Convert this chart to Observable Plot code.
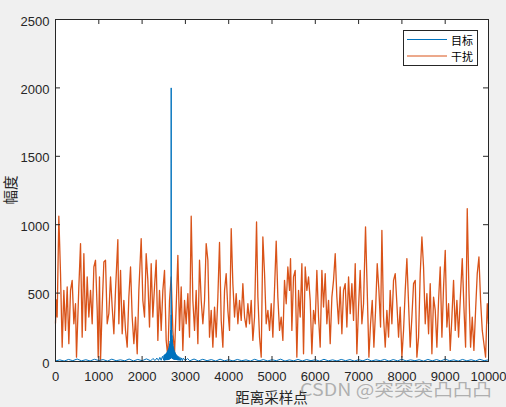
<!DOCTYPE html>
<html>
<head>
<meta charset="utf-8">
<script src="https://cdn.jsdelivr.net/npm/d3@7"></script>
<script src="https://cdn.jsdelivr.net/npm/@observablehq/plot@0.6"></script>
<style>
html, body { margin: 0; padding: 0; background: #f0f0f0; overflow: hidden; }
</style>
</head>
<body>
<div id="chart"></div>
<script>
// ---- data ----
const xTicks = [0, 1000, 2000, 3000, 4000, 5000, 6000, 7000, 8000, 9000, 10000];
const yTicks = [0, 500, 1000, 1500, 2000, 2500];
const seriesNames = ["目标", "干扰"];
const xLabel = "距离采样点";
const yLabel = "幅度";
const watermark = "CSDN @突突突凸凸凸";

// 干扰 (interference)
const interfSample = [0,20,38,77,116,154,193,231,270,308,347,385,424,462,485,539,578,616,655,693,732,770,809,847,886,924,963,986,1016,1040,1078,1117,1155,1194,1232,1271,1309,1348,1386,1440,1463,1502,1540,1579,1617,1656,1694,1733,1771,1810,1848,1887,1925,1979,2017,2056,2094,2133,2171,2210,2248,2287,2325,2364,2402,2441,2479,2518,2556,2595,2633,2672,2710,2749,2787,2826,2864,2903,2941,2980,3018,3057,3095,3134,3172,3211,3249,3288,3326,3365,3403,3442,3480,3519,3557,3596,3634,3673,3711,3750,3788,3827,3865,3904,3942,3981,4019,4058,4096,4135,4173,4212,4250,4289,4327,4366,4404,4443,4481,4520,4558,4597,4643,4674,4712,4751,4789,4828,4866,4905,4943,4982,5020,5097,5135,5174,5212,5251,5289,5328,5366,5405,5428,5459,5497,5536,5574,5613,5651,5690,5728,5767,5805,5844,5882,5921,5959,5998,6036,6075,6113,6152,6190,6229,6267,6306,6344,6383,6421,6460,6498,6537,6575,6614,6652,6691,6729,6768,6806,6845,6883,6922,6960,6999,7037,7076,7114,7160,7199,7238,7276,7315,7353,7392,7430,7469,7507,7538,7576,7615,7653,7692,7730,7769,7807,7846,7884,7923,7961,8000,8038,8077,8115,8154,8192,8231,8269,8308,8346,8385,8423,8462,8500,8539,8577,8616,8654,8693,8731,8770,8808,8847,8885,8924,8962,9001,9039,9078,9116,9155,9193,9232,9270,9309,9347,9394,9432,9471,9509,9548,9586,9625,9663,9702,9740,9779,9817,9856,9894,9933,9971,10000];
const interfAmp = [280,450,325,1062,642,105,520,227,545,130,520,593,276,422,32,545,862,178,788,227,618,325,520,276,691,740,374,32,618,8,398,727,740,276,350,618,398,203,520,891,276,666,203,447,227,105,471,691,325,130,325,56,520,898,447,325,788,593,252,715,325,545,740,154,520,227,520,666,154,32,447,618,227,56,398,776,227,545,81,447,276,496,178,1062,447,227,520,130,740,447,276,447,862,740,178,374,105,398,178,471,870,300,105,520,642,374,227,971,569,325,496,276,447,300,569,325,252,422,276,447,154,325,1020,471,178,32,910,642,276,374,227,422,178,880,471,227,325,154,593,422,691,520,752,227,618,666,32,520,325,715,56,691,520,618,447,56,374,276,666,325,105,666,398,642,276,447,130,471,593,788,471,276,545,203,520,569,252,618,350,569,300,715,56,398,666,276,422,984,520,32,276,447,105,374,715,520,252,959,325,105,374,178,520,276,593,642,422,178,398,32,227,520,752,422,105,325,569,593,32,178,642,910,691,276,496,203,569,56,471,374,105,447,691,178,545,813,252,422,81,325,593,227,447,178,447,752,398,105,1118,520,105,325,81,374,642,764,447,227,130,32,422,276];

// 目标 (target)
const targetSample = [0,100,200,300,400,500,600,700,800,900,1000,1100,1200,1300,1400,1500,1600,1700,1800,1900,2000,2100,2200,2250,2300,2340,2380,2410,2440,2470,
  2500,2506,2512,2518,2524,2530,2536,2542,2548,2554,2560,2566,2572,2578,2584,2590,2596,2602,2608,2614,2620,2626,2632,2638,2644,2648,2652,2656,2660,2663,2666,2668,2670,2671,2672,2673,2675,2677,2679,2681,2684,2687,2690,2694,2698,2703,2708,2713,2718,2724,2730,2736,2742,2749,2756,2763,2770,2778,2786,2795,2805,2815,2825,2836,2848,2860,2875,2890,2910,2930,2950,
  3000,3050,3100,3200,3300,3400,3500,3600,3700,3800,3900,4000,4100,4200,4300,4400,4500,4600,4700,4800,4900,5000,5100,5200,5300,5400,5500,5600,5700,5800,5900,6000,6100,6200,6300,6400,6500,6600,6700,6800,6900,7000,7100,7200,7300,7400,7500,7600,7700,7800,7900,8000,8100,8200,8300,8400,8500,8600,8700,8800,8900,9000,9100,9200,9300,9400,9500,9600,9700,9800,9900,10000];
const targetAmp = [4,12,3,15,6,18,5,13,4,16,7,14,3,17,6,12,5,18,4,15,6,19,5,22,7,25,8,30,9,38,
  10,45,8,50,9,48,10,55,11,58,12,62,10,70,13,78,12,85,14,95,15,110,16,130,18,150,20,180,25,230,30,300,350,1450,2000,40,340,35,280,30,230,25,190,22,160,20,130,18,110,16,95,15,80,14,70,13,60,12,52,11,45,10,40,9,35,8,30,7,26,6,24,
  6,22,5,18,4,16,6,14,3,17,5,13,4,15,6,12,3,16,5,14,4,13,6,17,3,12,5,15,4,14,6,13,3,16,5,12,4,15,6,14,3,13,5,17,4,12,6,15,3,14,5,16,4,12,6,13,3,15,5,14,4,17,6,12,3,15,5,13,4,16,6,12,5,8];

// ---- layout ----
const W = 506, H = 407;
const mL = 55, mR = 18, mT = 19, mB = 46;
const tickPx = 5;
const xMax = 10000, yMax = 2500;
const tickY = tickPx * yMax / (H - mT - mB);
const tickX = tickPx * xMax / (W - mL - mR);

const blue = "#0072BD", orange = "#D95319", axisCol = "#262626";

const iIdx = d3.range(interfSample.length);
const tIdx = d3.range(targetSample.length);

const plot = Plot.plot({
  width: W, height: H,
  marginLeft: mL, marginRight: mR, marginTop: mT, marginBottom: mB,
  style: {background: "#f0f0f0", fontFamily: "'Liberation Sans', Arial, sans-serif", fontSize: "13px", color: axisCol, overflow: "visible"},
  x: {domain: [0, xMax]},
  y: {domain: [0, yMax]},
  marks: [
    Plot.frame({fill: "white", stroke: null}),
    Plot.line(iIdx, {x: i => interfSample[i], y: i => interfAmp[i], stroke: orange, strokeWidth: 1.3}),
    Plot.line(tIdx, {x: i => targetSample[i], y: i => targetAmp[i], stroke: blue, strokeWidth: 1}),
    Plot.ruleX(xTicks, {x: d => d, y1: 0, y2: tickY, stroke: axisCol}),
    Plot.ruleX(xTicks, {x: d => d, y1: yMax - tickY, y2: yMax, stroke: axisCol}),
    Plot.ruleY(yTicks, {y: d => d, x1: 0, x2: tickX, stroke: axisCol}),
    Plot.ruleY(yTicks, {y: d => d, x1: xMax - tickX, x2: xMax, stroke: axisCol}),
    Plot.frame({stroke: axisCol, strokeWidth: 1}),
    Plot.axisX(xTicks, {tickSize: 0, tickPadding: 10, label: null, fill: axisCol, fontSize: 13, tickFormat: d => String(d)}),
    Plot.axisY(yTicks, {tickSize: 0, tickPadding: 6, label: null, fill: axisCol, fontSize: 13, dy: 2, tickFormat: d => String(d)})
  ]
});

const svg = d3.select(plot);
const cjk = "'Noto Sans CJK SC', 'Noto Sans', sans-serif";

// axis titles
svg.append("text")
  .attr("x", (mL + W - mR) / 2).attr("y", 396)
  .attr("text-anchor", "middle").attr("dominant-baseline", "central")
  .attr("font-family", cjk).attr("font-size", 14.5).attr("fill", axisCol)
  .text(xLabel);
svg.append("text")
  .attr("transform", `translate(9.5,${(mT + H - mB) / 2}) rotate(-90)`)
  .attr("text-anchor", "middle").attr("dominant-baseline", "central")
  .attr("font-family", cjk).attr("font-size", 14.5).attr("fill", axisCol)
  .text(yLabel);

// legend
const lg = svg.append("g");
lg.append("rect").attr("x", 403.5).attr("y", 30.5).attr("width", 74).attr("height", 35)
  .attr("fill", "white").attr("stroke", axisCol).attr("stroke-width", 1);
[blue, orange].forEach((c, k) => {
  const yy = 39.5 + k * 16.5;
  lg.append("line").attr("x1", 407).attr("x2", 447).attr("y1", yy).attr("y2", yy)
    .attr("stroke", c).attr("stroke-width", 1);
  lg.append("text").attr("x", 451).attr("y", yy)
    .attr("text-anchor", "start").attr("dominant-baseline", "central")
    .attr("font-family", cjk).attr("font-size", 11).attr("fill", "#000")
    .text(seriesNames[k]);
});

// watermark
svg.append("text")
  .attr("x", 300).attr("y", 388)
  .attr("text-anchor", "start").attr("dominant-baseline", "central")
  .attr("font-family", cjk).attr("font-size", 17)
  .attr("fill", "rgba(110,110,110,0.5)")
  .attr("textLength", 192).attr("lengthAdjust", "spacingAndGlyphs")
  .text(watermark);

document.getElementById("chart").appendChild(plot);
</script>
</body>
</html>
